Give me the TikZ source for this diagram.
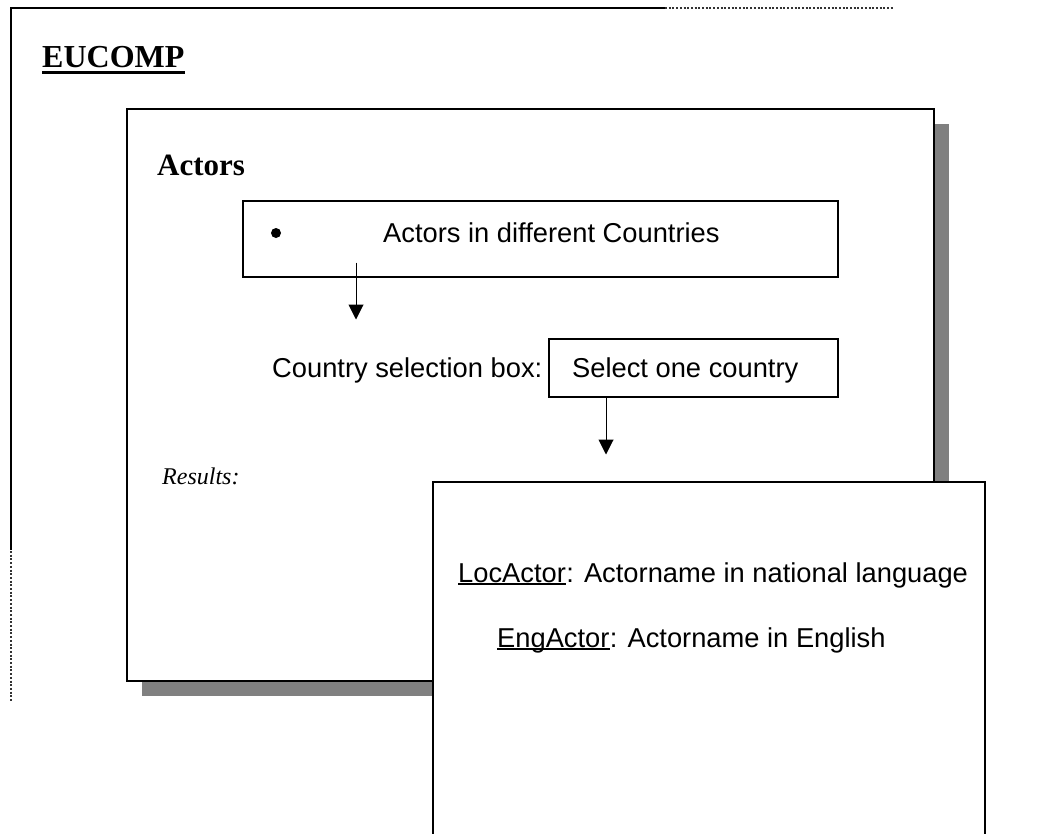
\documentclass[tikz,border=0pt]{standalone}
\usepackage{fontspec}
\setmainfont{Liberation Serif}
\newfontfamily\arialfont{Liberation Sans}
\usetikzlibrary{arrows.meta}
\definecolor{shadowgray}{RGB}{128,128,128}
\begin{document}
\begin{tikzpicture}[x=1pt,y=-1pt,
  frameline/.style={line width=2pt},
  dotline/.style={line width=2pt, black!80, dash pattern=on 2pt off 1.7pt},
  panel/.style={draw, line width=1.8pt, fill=white, anchor=north west, inner sep=0pt},
  choicebox/.style={draw, line width=1.5pt, anchor=north west, inner sep=0pt},
  flow/.style={line width=1pt, -{Triangle[width=15pt,length=15pt]}},
  sans/.style={font=\arialfont\fontsize{27.3}{32}\selectfont, inner sep=0pt, anchor=base west},
  heading/.style={font=\bfseries\fontsize{32}{38}\selectfont, inner sep=0pt, anchor=base west},
  subheading/.style={font=\bfseries\fontsize{31}{37}\selectfont, inner sep=0pt, anchor=base west},
  italiclabel/.style={font=\itshape\fontsize{24}{29}\selectfont, inner sep=0pt, anchor=base west},
  listdot/.style={circle, fill, inner sep=0pt, minimum size=10pt},
  uline/.style={line width=1.5pt}]
\useasboundingbox (0,0) rectangle (1049,833);

% outer page frame, solid then dotted
\draw[frameline] (11,550) -- (11,8) -- (665,8);
\draw[dotline] (665,8) -- (893,8);
\draw[dotline] (11,551) -- (11,702);

% title
\node[heading] (title) at (42,67) {EUCOMP};
\draw[line width=3pt] ([yshift=-5.5pt]title.base west) -- ([yshift=-5.5pt]title.base east);

% actors panel with drop shadow
\fill[shadowgray] (142,124) rectangle (949,696);
\node[panel, minimum width=807pt, minimum height=572pt] (actors) at (126,108) {};
\node[subheading] (actorshead) at (157,175) {Actors};

% first choice box
\node[choicebox, minimum width=595pt, minimum height=76pt] (countries) at (242,200) {};
\node[listdot] (bullet) at (276,233) {};
\node[sans] (countriestxt) at (383,242) {Actors in different Countries};
\draw[flow] ([xshift=114pt, yshift=15pt]countries.south west) -- ++(0,57);

% country selection
\node[sans] (selectlabel) at (272,377) {Country selection box:};
\node[choicebox, minimum width=289pt, minimum height=58pt] (select) at (548,338) {};
\node[sans] (selecttxt) at (572,377) {Select one country};
\draw[flow] ([xshift=58pt]select.south west) -- ++(0,57);

\node[italiclabel] (results) at (162,484) {Results:};

% results window, open at the bottom
\draw[line width=1.8pt, fill=white] (433,834) -- (433,482) -- (985,482) -- (985,834);
\coordinate (resultsbox) at (433,482);

\node[sans] (loc) at (458,582) {LocActor};
\node[sans, anchor=base west] (locdesc) at (loc.base east) {: Actorname in national language};
\draw[uline] ([yshift=-2pt]loc.base west) -- ([yshift=-2pt]loc.base east);

\node[sans] (eng) at (497,647) {EngActor};
\node[sans, anchor=base west] (engdesc) at (eng.base east) {: Actorname in English};
\draw[uline] ([yshift=-2pt]eng.base west) -- ([yshift=-2pt]eng.base east);
\end{tikzpicture}
\end{document}
